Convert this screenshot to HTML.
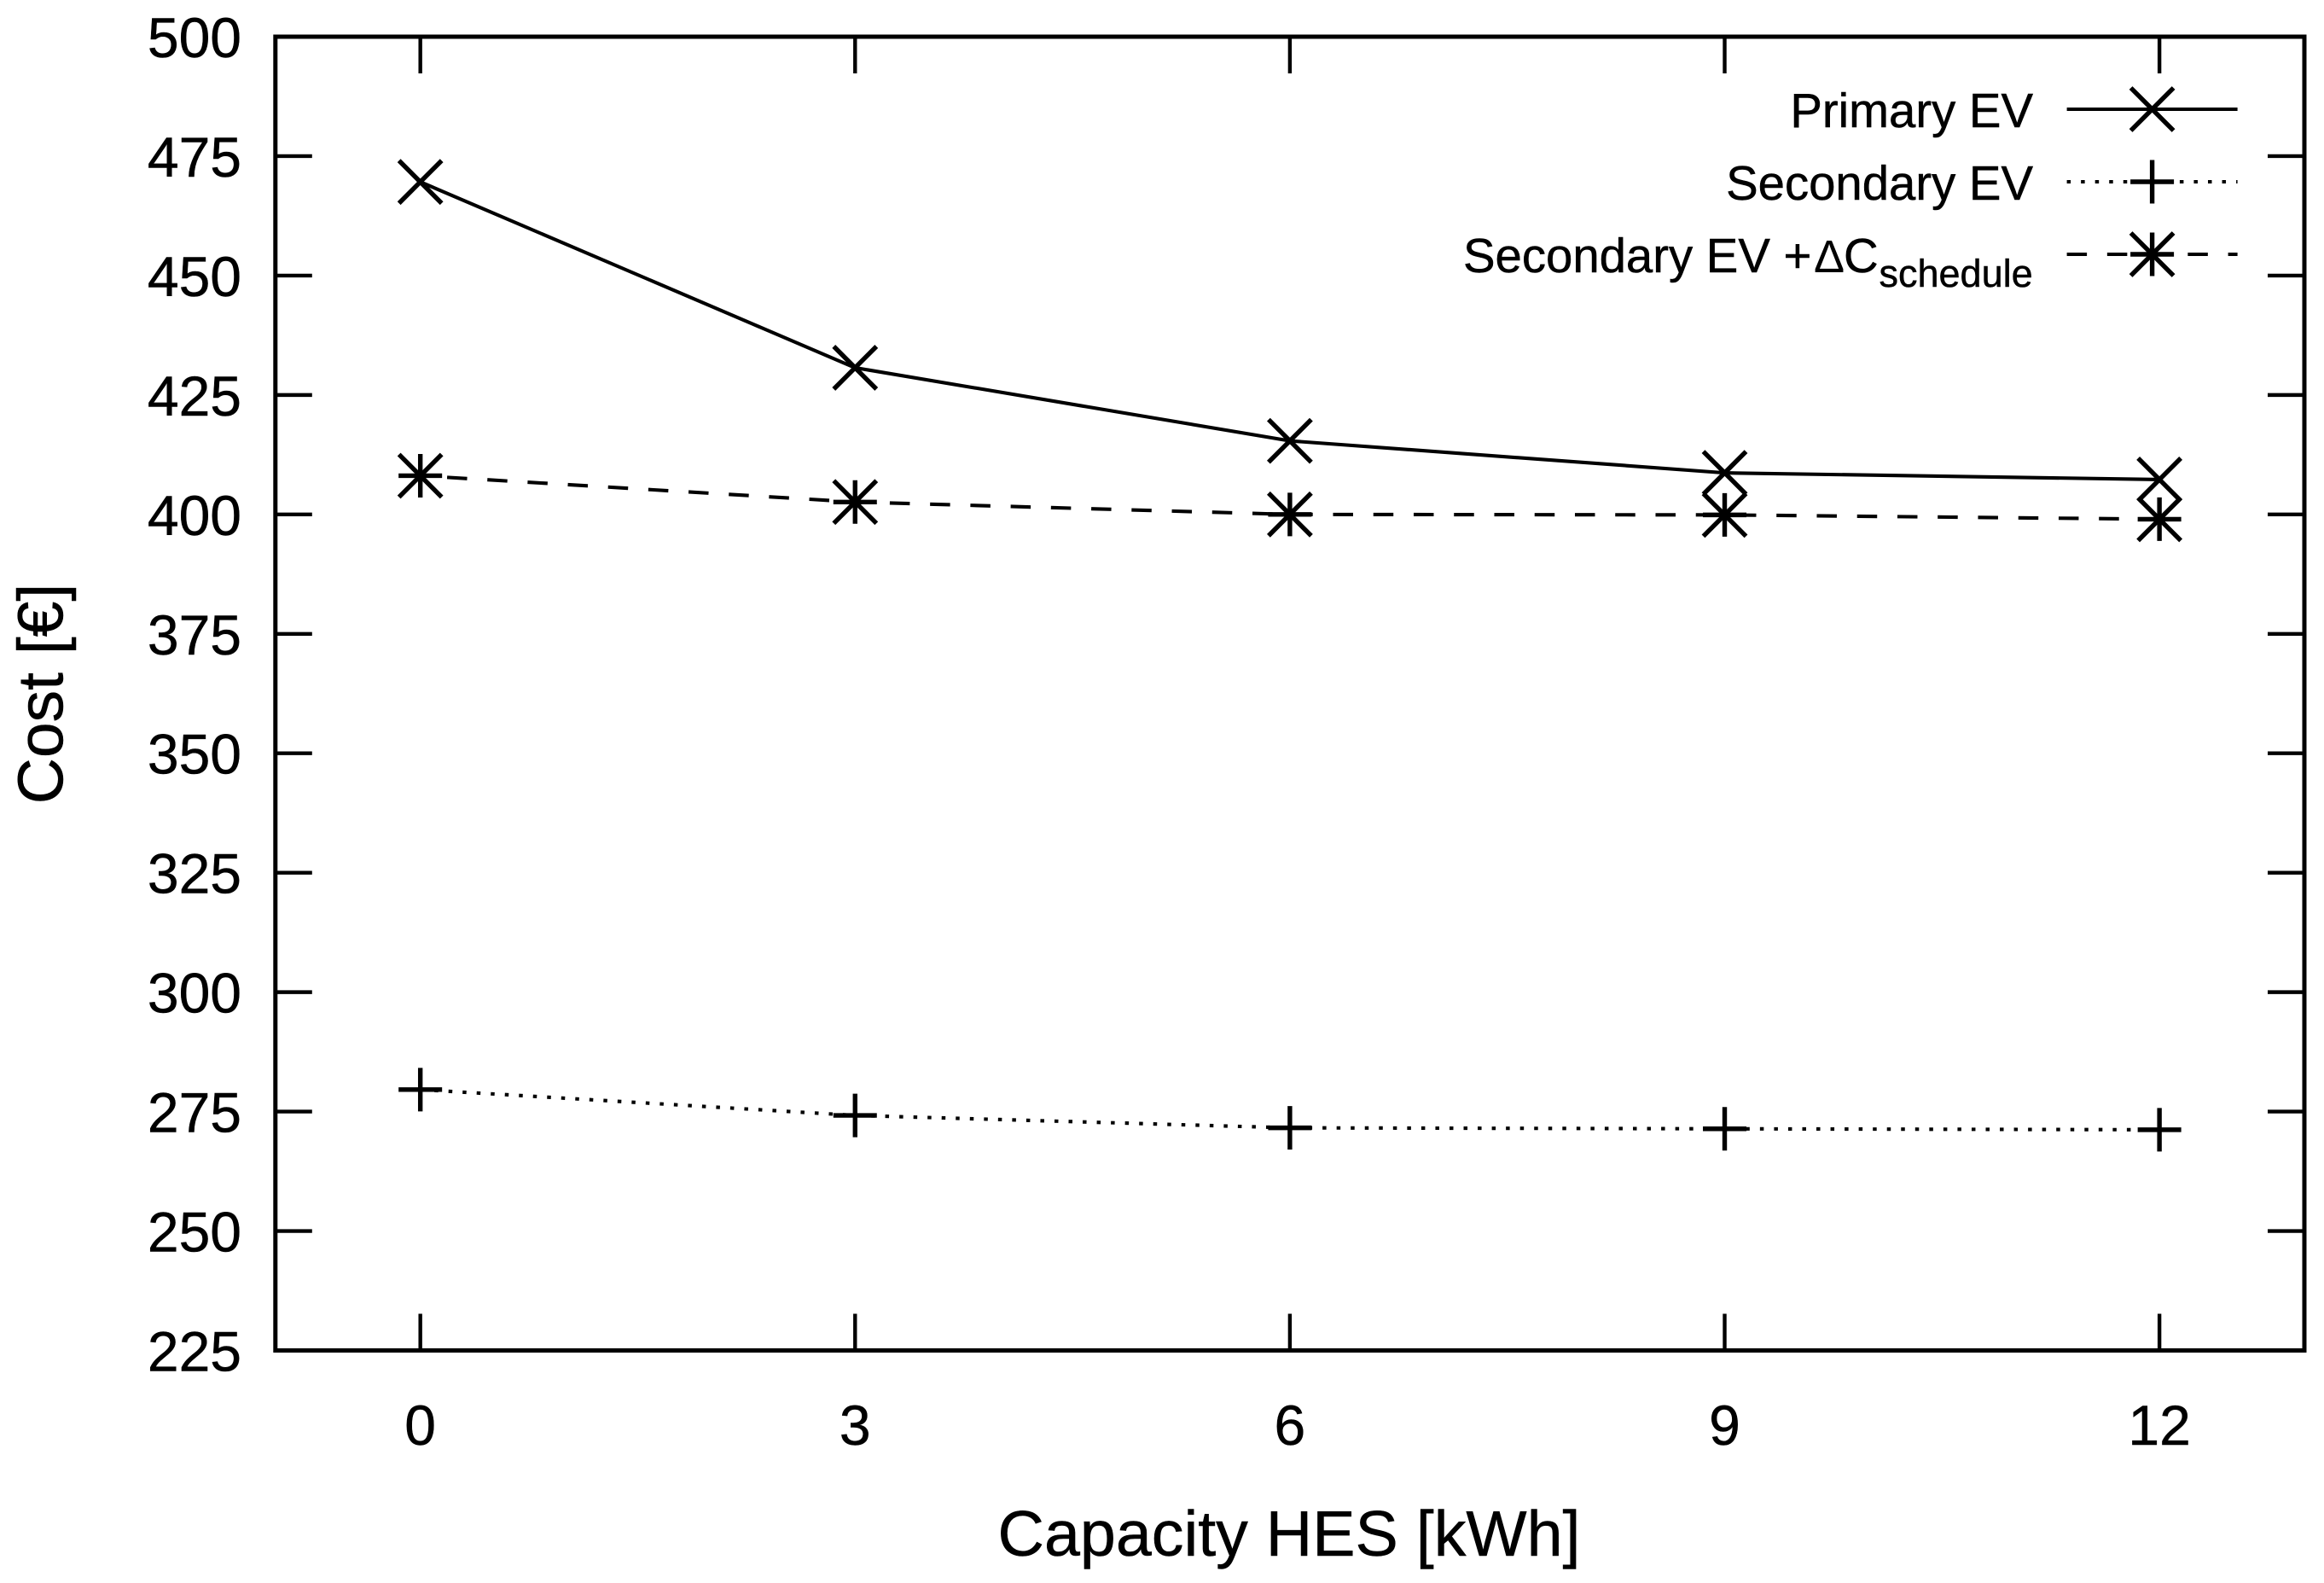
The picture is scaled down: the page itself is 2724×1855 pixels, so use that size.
<!DOCTYPE html>
<html>
<head>
<meta charset="utf-8">
<title>Cost vs Capacity HES</title>
<style>
html,body{margin:0;padding:0;background:#fff;}
svg{display:block;}
text{font-family:"Liberation Sans",Arial,sans-serif;fill:#000;stroke:#000;stroke-width:0.5px;}
</style>
</head>
<body>
<svg id="chart" xmlns="http://www.w3.org/2000/svg" width="2724" height="1855" viewBox="0 0 2724 1855">
<rect x="0" y="0" width="2724" height="1855" fill="#fff"/>
<g id="axes"></g>
<g id="series"></g>
<text transform="translate(73.5,813) rotate(-90)" text-anchor="middle" font-size="75">Cost [€]</text>
<text x="1511" y="1823" text-anchor="middle" font-size="75.4">Capacity HES [kWh]</text>
<g id="legend">
<text x="2383" y="149" text-anchor="end" font-size="56.3">Primary EV</text>
<text x="2383" y="234" text-anchor="end" font-size="56.3">Secondary EV</text>
<text y="319" font-size="56.3"><tspan x="1715">Secondary EV +</tspan><tspan x="2126" font-size="54" style="stroke-width:0">Δ</tspan><tspan x="2161">C</tspan><tspan x="2202.5" y="336" font-size="45">schedule</tspan></text>
</g>
</svg>
<script>
const xCategories = [0, 3, 6, 9, 12];
const yTickLabels = [225, 250, 275, 300, 325, 350, 375, 400, 425, 450, 475, 500];
const primaryEv = [469.6, 430.7, 415.4, 408.7, 407.3];
const secondaryEv = [279.6, 274.2, 271.6, 271.4, 271.2];
const secondaryEvSchedule = [408.1, 402.6, 400.0, 399.9, 399.0];

const NS = 'http://www.w3.org/2000/svg';
const plotLeft = 322.8, plotRight = 2701, plotTop = 43, plotBottom = 1582.5;
const xMin = -1, xMax = 13, yMin = 225, yMax = 500;
const tickLen = 43, tickWidth = 4.4, markerWidth = 5.4, lineWidth = 4.1;
const dottedPattern = '4.5 12.04';
const dashedPattern = '23.5 23.75';
function xScale(v) { return plotLeft + (v - xMin) / (xMax - xMin) * (plotRight - plotLeft); }
function yScale(v) { return plotBottom - (v - yMin) / (yMax - yMin) * (plotBottom - plotTop); }

function make(tag, attrs, parent) {
  const el = document.createElementNS(NS, tag);
  for (const k in attrs) el.setAttribute(k, attrs[k]);
  parent.appendChild(el);
  return el;
}
function stroke(parent, x1, y1, x2, y2, w) {
  const el = make('line', { x1: x1, y1: y1, x2: x2, y2: y2, stroke: '#000', 'stroke-width': w }, parent);
  return el;
}

const axes = document.getElementById('axes');
const seriesG = document.getElementById('series');
const legendG = document.getElementById('legend');

yTickLabels.forEach(function (t) {
  const y = yScale(t);
  const tl = stroke(axes, plotLeft, y, plotLeft + tickLen, y, tickWidth);
  
  
  const tr = stroke(axes, plotRight, y, plotRight - tickLen, y, tickWidth);
  
  
  const lab = make('text', { x: 283, y: y + 24, 'text-anchor': 'end', 'font-size': 66 }, axes);
  lab.textContent = String(t);
  
  
});
xCategories.forEach(function (c) {
  const x = xScale(c);
  const tb = stroke(axes, x, plotBottom, x, plotBottom - tickLen, tickWidth);
  
  
  const tt = stroke(axes, x, plotTop, x, plotTop + tickLen, tickWidth);
  
  
  const lab = make('text', { x: x, y: 1693, 'text-anchor': 'middle', 'font-size': 66 }, axes);
  lab.textContent = String(c);
  
  
});
const frame = make('rect', { x: plotLeft, y: plotTop, width: plotRight - plotLeft, height: plotBottom - plotTop, fill: 'none', stroke: '#000', 'stroke-width': 5 }, axes);



function drawX(g, x, y) {
  const h = 25;
  stroke(g, x - h, y - h, x + h, y + h, markerWidth);
  stroke(g, x - h, y + h, x + h, y - h, markerWidth);
}
function drawPlus(g, x, y) {
  const h = 25.5;
  stroke(g, x - h, y, x + h, y, markerWidth);
  stroke(g, x, y - h, x, y + h, markerWidth);
}
function drawStar(g, x, y) {
  drawX(g, x, y);
  drawPlus(g, x, y);
}

function drawSeries(values, key, dash, offset, marker) {
  const g = make('g', {}, seriesG);
  
  
  const pts = values.map(function (v, i) { return xScale(xCategories[i]).toFixed(2) + ',' + yScale(v).toFixed(2); }).join(' ');
  const line = make('polyline', { points: pts, fill: 'none', stroke: '#000', 'stroke-width': lineWidth, 'stroke-linejoin': 'round' }, g);
  if (dash) {
    line.setAttribute('stroke-dasharray', dash);
    line.setAttribute('stroke-dashoffset', offset);
  }
  
  
  values.forEach(function (v, i) {
    const m = make('g', {}, g);
    
    
    marker(m, xScale(xCategories[i]), yScale(v));
  });
}
drawSeries(primaryEv, 'primary-ev', null, 0, drawX);
drawSeries(secondaryEv, 'secondary-ev', dottedPattern, 0, drawPlus);
drawSeries(secondaryEvSchedule, 'secondary-ev-schedule', dashedPattern, 15.8, drawStar);

function drawLegendSample(key, y, dash, marker) {
  const g = make('g', {}, legendG);
  
  
  const l = stroke(g, 2422.6, y, 2622.6, y, lineWidth);
  if (dash) l.setAttribute('stroke-dasharray', dash);
  marker(g, 2522.6, y);
}
drawLegendSample('primary-ev', 128, null, drawX);
drawLegendSample('secondary-ev', 213, dottedPattern, drawPlus);
drawLegendSample('secondary-ev-schedule', 298, dashedPattern, drawStar);
</script>
</body>
</html>
